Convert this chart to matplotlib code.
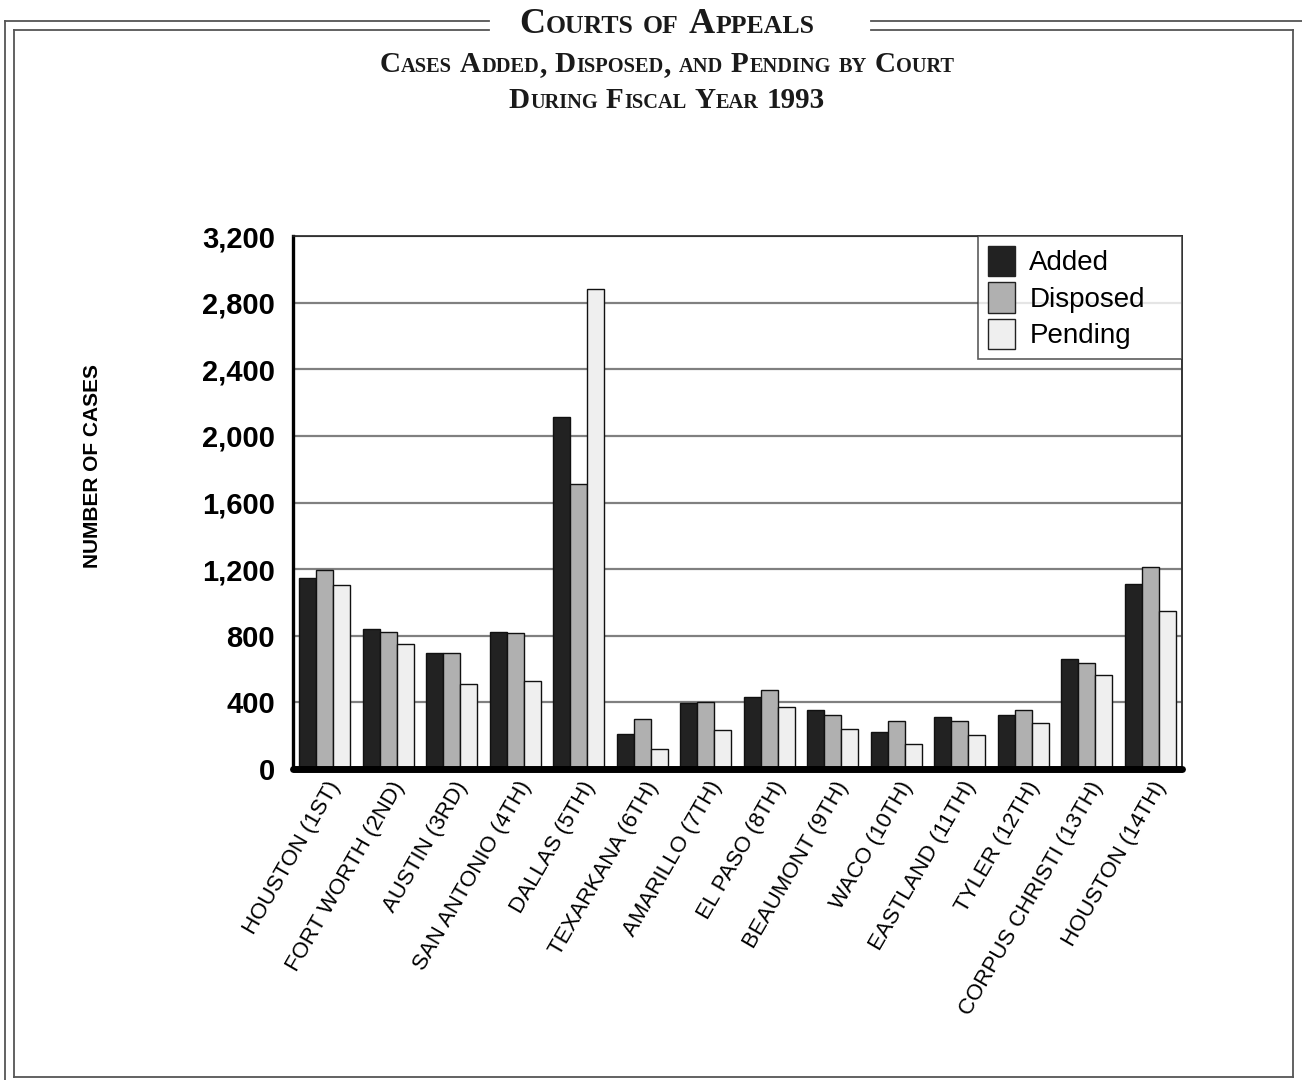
import numpy as np
import matplotlib
matplotlib.use("Agg")
import matplotlib.pyplot as plt
from matplotlib.lines import Line2D
from matplotlib.patches import Patch
from matplotlib.transforms import ScaledTranslation

courts = ["HOUSTON (1ST)", "FORT WORTH (2ND)", "AUSTIN (3RD)", "SAN ANTONIO (4TH)",
          "DALLAS (5TH)", "TEXARKANA (6TH)", "AMARILLO (7TH)", "EL PASO (8TH)",
          "BEAUMONT (9TH)", "WACO (10TH)", "EASTLAND (11TH)", "TYLER (12TH)",
          "CORPUS CHRISTI (13TH)", "HOUSTON (14TH)"]
added = [1147, 838, 695, 823, 2114, 208, 399, 435, 356, 223, 311, 322, 658, 1111]
disposed = [1196, 825, 695, 817, 1711, 302, 403, 472, 326, 289, 289, 352, 639, 1213]
pending = [1106, 750, 510, 527, 2879, 122, 236, 373, 240, 152, 204, 277, 564, 950]
series_names = ["Added", "Disposed", "Pending"]
yticks = [0, 400, 800, 1200, 1600, 2000, 2400, 2800, 3200]

W, H = 1302, 1080
fig = plt.figure(figsize=(W / 100, H / 100), dpi=100)


def fx(px):
    return px / W


def fy(py):
    return 1 - py / H


# double-ruled frame around the page, broken by the title
fc = "#555555"
for seg in [((5, 489), (21, 21)), ((871, 1302), (21, 21)),
            ((14, 489), (30, 30)), ((871, 1293), (30, 30)),
            ((5, 5), (21, 1080)), ((14, 14), (30, 1077)),
            ((1293, 1293), (30, 1077)), ((14, 1293), (1077, 1077))]:
    xs, ys = seg
    fig.add_artist(Line2D([fx(xs[0]), fx(xs[1])], [fy(ys[0]), fy(ys[1])],
                          transform=fig.transFigure, color=fc, lw=1.3))


def small_caps(xc, ybase, text, big, small):
    # fake small caps: lowercase letters are drawn as smaller capitals
    r = fig.canvas.get_renderer()
    items = []
    x = 0
    for wi, word in enumerate(text.split(" ")):
        if wi:
            x += big * 100 / 72 * 0.25
        runs = []
        for ch in word:
            size = small if ch.islower() else big
            if runs and runs[-1][1] == size:
                runs[-1][0] += ch.upper()
            else:
                runs.append([ch.upper(), size])
        for s, size in runs:
            t = fig.text(0, 0, s, fontsize=size, family="Liberation Serif",
                         weight="bold", va="baseline", ha="left", color="#1a1a1a")
            w = t.get_window_extent(r).width
            items.append((t, x))
            x += w + 0.5
    x0 = xc - x / 2
    for t, off in items:
        t.set_position((fx(x0 + off), fy(ybase)))


small_caps(667, 33, "Courts of Appeals", 26, 18.5)
small_caps(667, 72, "Cases Added, Disposed, and Pending by Court", 21, 14.7)
small_caps(667, 108, "During Fiscal Year 1993", 21, 14.7)

ax = fig.add_axes([fx(293), fy(769), fx(1182) - fx(293), fy(236) - fy(769)])

x = np.arange(len(courts))
bw = 0.268
colors = ["#222222", "#b0b0b0", "#efefef"]
for i, vals in enumerate([added, disposed, pending]):
    ax.bar(x + (i - 1) * bw, vals, bw, color=colors[i], edgecolor="#111111",
           linewidth=1.0, zorder=3, label=series_names[i])

ax.set_xlim(-0.5, len(courts) - 0.5)
ax.set_ylim(0, 3200)
ax.set_yticks(yticks)
ax.set_yticklabels([f"{v:,}" for v in yticks], family="Liberation Sans",
                   weight="bold", fontsize=21)
ax.tick_params(axis="y", length=0, pad=13)
ax.yaxis.grid(True, color="#808080", lw=1.6, zorder=0)

ax.set_xticks(x)
ax.set_xticklabels(courts, rotation=60, ha="right", va="center",
                   rotation_mode="anchor", family="Liberation Sans", fontsize=16)
ax.tick_params(axis="x", length=0, pad=10)
for lbl in ax.get_xticklabels():
    lbl.set_transform(lbl.get_transform() + ScaledTranslation(8 / 72, 0, fig.dpi_scale_trans))

ax.spines["left"].set_linewidth(2.4)
ax.spines["left"].set_color("black")
ax.spines["bottom"].set_linewidth(5.0)
ax.spines["bottom"].set_color("black")
ax.spines["bottom"].set_capstyle("round")
ax.spines["top"].set_linewidth(1.2)
ax.spines["top"].set_color("#222222")
ax.spines["right"].set_linewidth(1.4)
ax.spines["right"].set_color("#333333")
for s in ax.spines.values():
    s.set_zorder(5)

fig.text(fx(92), fy(466), "NUMBER OF CASES", rotation=90, ha="center", va="center",
         family="Liberation Sans", weight="bold", fontsize=15)

handles = [Patch(facecolor=colors[i], edgecolor="#222222", label=series_names[i])
           for i in range(3)]
leg = ax.legend(handles=handles, loc="upper right", mode="expand",
                bbox_to_anchor=(0.7705, 0.0, 0.2295, 1.0),
                prop={"family": "Liberation Sans", "size": 20}, frameon=True,
                fancybox=False, borderaxespad=0, handlelength=1.0, handleheight=1.3,
                handletextpad=0.5, labelspacing=0.22, borderpad=0.35)
leg.get_frame().set_edgecolor("#333333")
leg.get_frame().set_linewidth(1.2)
leg.set_zorder(6)

fig.savefig("out.png", dpi=100, facecolor="white")
